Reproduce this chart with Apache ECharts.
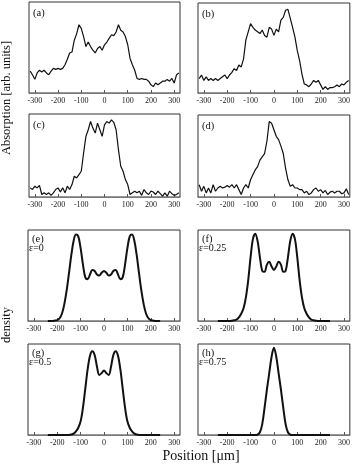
<!DOCTYPE html>
<html>
<head>
<meta charset="utf-8">
<script src="https://cdn.jsdelivr.net/npm/echarts@6/dist/echarts.min.js"></script>
<style>
html, body { margin: 0; padding: 0; background: #fff; }
#chart { width: 353px; height: 464px; }
</style>
</head>
<body>
<div id="chart"></div>
<script>
// tick labels on every position axis
const tickValues = [-300, -200, -100, 0, 100, 200, 300];

// measured absorption, positions in um
const absPos = [-320, -310, -300, -290, -280, -270, -260, -250, -240, -230, -220, -210, -200, -190, -180, -170,
    -160, -150, -140, -130, -120, -110, -100, -90, -80, -70, -60, -50, -40, -30, -20, -10, 0,
    10, 20, 30, 40, 50, 60, 70, 80, 90, 100, 110, 120, 130, 140, 150, 160,
    170, 180, 190, 200, 210, 220, 230, 240, 250, 260, 270, 280, 290, 300, 310, 320];
const absA = [24, 20, 15, 22, 25, 23, 25, 22, 20, 24, 27, 26, 27, 26, 27, 31,
    37, 44, 45, 58, 65, 75, 71, 62, 51, 56, 51, 47, 44, 49, 51, 47, 53,
    56, 60, 64, 63, 67, 75, 69, 67, 62, 53, 38, 31, 25, 16, 15, 16,
    15, 15, 13, 9, 7, 11, 9, 11, 13, 13, 15, 13, 16, 11, 20, 22];
const absB = [16, 20, 14, 18, 14, 16, 14, 16, 14, 16, 18, 20, 16, 20, 23, 27,
    25, 31, 29, 38, 59, 68, 77, 73, 70, 68, 66, 70, 64, 62, 73, 71, 64,
    71, 68, 81, 84, 92, 93, 83, 73, 62, 47, 36, 21, 10, 9, 7, 10,
    14, 12, 14, 9, 4, 7, 4, 6, 6, 7, 9, 7, 10, 9, 12, 14];
const absC = [11, 9, 13, 11, 14, 3, 5, 3, 5, 2, 5, 9, 11, 6, 11, 5,
    13, 9, 15, 25, 23, 27, 31, 53, 73, 81, 91, 83, 77, 89, 81, 73, 87,
    91, 89, 93, 90, 81, 57, 37, 31, 21, 15, 3, 5, 7, 5, 7, 2,
    9, 5, 3, 7, 6, 3, 7, 4, 1, 5, 1, 7, 4, 2, 3, 5];
const absD = [15, 7, 13, 5, 11, 5, 15, 7, 11, 13, 11, 12, 14, 12, 15, 11,
    15, 9, 3, 11, 15, 11, 21, 27, 33, 37, 45, 49, 53, 68, 92, 90, 82,
    74, 70, 62, 53, 35, 21, 13, 15, 11, 11, 9, 9, 5, 7, 3, 5,
    9, 11, 7, 9, 5, 8, 3, 6, 7, 5, 7, 7, 4, 5, 10, 3];

// calculated density
const denPos = [-240, -230, -220, -210, -200, -190, -180, -170, -160, -150, -140, -130, -120, -110, -100, -90,
    -80, -70, -60, -50, -40, -30, -20, -10, 0, 10, 20, 30, 40, 50, 60, 70, 80,
    90, 100, 110, 120, 130, 140, 150, 160, 170, 180, 190, 200, 210, 220, 230, 240];
const denE = [0, 0, 0, 0.5, 1, 3, 8, 18, 33, 52, 72, 88, 95, 93, 80, 62,
    48, 46, 51, 56, 55, 51, 50, 53, 55, 53, 50, 51, 55, 56, 51, 46, 48,
    62, 80, 93, 95, 88, 72, 52, 33, 18, 8, 3, 1, 0.5, 0, 0, 0];
const denF = [0, 0, 0, 0, 0, 0, 0.3, 0.8, 1.5, 4, 8, 14, 26, 45, 70, 90,
    96, 88, 70, 55, 54, 62, 65, 60, 56, 60, 65, 62, 54, 55, 70, 88, 96,
    90, 70, 45, 26, 14, 8, 4, 1.5, 0.8, 0.3, 0, 0, 0, 0, 0, 0];
const denG = [0, 0, 0, 0, 0, 0, 0, 0, 0, 0, 0.5, 1.5, 4, 8, 15, 30,
    51, 72, 87, 92, 88, 75, 66, 68, 71, 68, 66, 75, 88, 92, 87, 72, 51,
    30, 15, 8, 4, 1.5, 0.5, 0, 0, 0, 0, 0, 0, 0, 0, 0, 0];
const denH = [0, 0, 0, 0, 0, 0, 0, 0, 0, 0, 0, 0, 0, 0, 0, 0,
    0, 0.5, 3, 12, 30, 50, 68, 86, 96, 86, 68, 50, 30, 12, 3, 0.5, 0,
    0, 0, 0, 0, 0, 0, 0, 0, 0, 0, 0, 0, 0, 0, 0, 0];

const panelLabels = ['(a)', '(b)', '(c)', '(d)', '(e)', '(f)', '(g)', '(h)'];
const epsLabels = ['', '', '', '', 'ε=0', 'ε=0.25', 'ε=0.5', 'ε=0.75'];

const serif = "'Liberation Serif', 'DejaVu Serif', serif";

let panels = [
    {grid: {left: 29, top: 2, width: 151, height: 91}, x: absPos, y: absA, smooth: false},
    {grid: {left: 198, top: 3, width: 152, height: 90}, x: absPos, y: absB, smooth: false},
    {grid: {left: 29, top: 114, width: 151, height: 83}, x: absPos, y: absC, smooth: false},
    {grid: {left: 198, top: 115, width: 152, height: 82}, x: absPos, y: absD, smooth: false},
    {grid: {left: 28, top: 230, width: 152, height: 91}, x: denPos, y: denE, smooth: true},
    {grid: {left: 198, top: 230, width: 152, height: 91}, x: denPos, y: denF, smooth: true},
    {grid: {left: 28, top: 344, width: 152, height: 91}, x: denPos, y: denG, smooth: true},
    {grid: {left: 198, top: 344, width: 152, height: 91}, x: denPos, y: denH, smooth: true}
];

let grids = [];
let xAxes = [];
let yAxes = [];
let series = [];
let graphics = [];

panels.forEach((p, i) => {
    grids.push(Object.assign({
        show: true,
        borderColor: '#333',
        borderWidth: 1
    }, p.grid));
    xAxes.push({
        gridIndex: i,
        type: 'value',
        min: -325,
        max: 325,
        axisLine: {lineStyle: {color: '#777', width: 1}},
        axisTick: {inside: true, length: 3, customValues: tickValues, lineStyle: {color: '#555'}},
        axisLabel: {customValues: tickValues, fontSize: 8, fontFamily: serif, color: '#222', margin: 4},
        splitLine: {show: false}
    });
    yAxes.push({
        gridIndex: i,
        type: 'value',
        min: 0,
        max: 100,
        show: false
    });
    series.push({
        type: 'line',
        xAxisIndex: i,
        yAxisIndex: i,
        data: p.x.map((v, k) => [v, p.y[k]]),
        showSymbol: false,
        smooth: p.smooth ? 0.35 : false,
        lineStyle: {color: '#111', width: p.smooth ? 2 : 1.2}
    });
    // panel letter, and the epsilon value under it for the density panels
    graphics.push({
        type: 'text',
        x: p.grid.left + 4,
        y: p.grid.top + (i < 4 ? 11 : 9),
        style: {text: panelLabels[i], font: '10.5px ' + serif, fill: '#111', verticalAlign: 'middle'}
    });
    if (epsLabels[i]) {
        graphics.push({
            type: 'text',
            x: p.grid.left + 1,
            y: p.grid.top + 18.5,
            style: {text: epsLabels[i], font: '10px ' + serif, fill: '#111', verticalAlign: 'middle'}
        });
    }
});

graphics.push({
    type: 'text',
    x: 7,
    y: 98,
    rotation: Math.PI / 2,
    style: {text: 'Absorption [arb. units]', font: '12.5px ' + serif, fill: '#111', align: 'center', verticalAlign: 'middle'}
});
graphics.push({
    type: 'text',
    x: 7,
    y: 325,
    rotation: Math.PI / 2,
    style: {text: 'density', font: '12.5px ' + serif, fill: '#111', align: 'center', verticalAlign: 'middle'}
});
graphics.push({
    type: 'text',
    x: 201,
    y: 456,
    style: {text: 'Position [μm]', font: '14px ' + serif, fill: '#111', align: 'center', verticalAlign: 'middle'}
});

let myChart = echarts.init(document.getElementById('chart'));
myChart.setOption({
    animation: false,
    grid: grids,
    xAxis: xAxes,
    yAxis: yAxes,
    series: series,
    graphic: graphics
});
</script>
</body>
</html>
